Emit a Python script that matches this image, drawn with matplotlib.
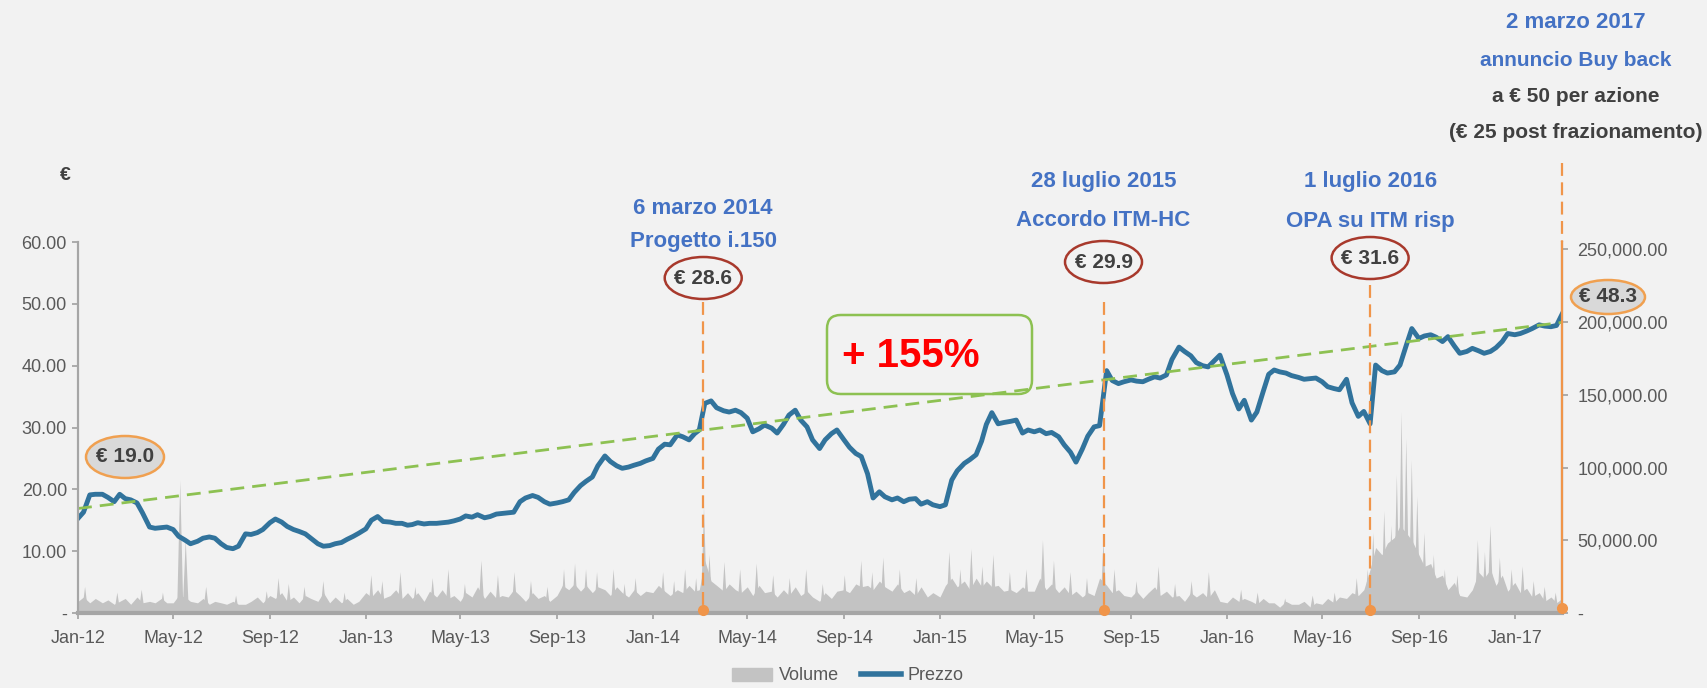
import datetime as dt
import matplotlib
matplotlib.use("Agg")
import matplotlib.pyplot as plt
import matplotlib.dates as mdates
import matplotlib.patches as mpatches
from matplotlib.lines import Line2D
from matplotlib.ticker import FuncFormatter, FixedLocator

plt.rcParams['font.family'] = ['Liberation Sans', 'DejaVu Sans']

# weekly samples: days 1, 8, 16, 23 of each month
week_days = [1, 8, 16, 23]

price_2012 = [15.3, 16.3, 19.1, 19.2, 19.2, 18.7, 18.0, 19.2,
              18.5, 18.3, 17.8, 16.2, 13.9, 13.7, 13.8, 13.9,
              13.5, 12.4, 11.8, 11.2, 11.6, 12.1, 12.3, 12.1,
              11.2, 10.6, 10.4, 10.8, 12.8, 12.7, 13.0, 13.5,
              14.6, 15.2, 14.7, 14.0, 13.5, 13.2, 12.8, 12.1,
              11.2, 10.8, 10.9, 11.2, 11.4, 11.9, 12.4, 12.9]
price_2013 = [13.6, 15.0, 15.6, 14.8, 14.7, 14.5, 14.5, 14.2,
              14.3, 14.6, 14.4, 14.5, 14.5, 14.6, 14.7, 14.9,
              15.2, 15.7, 15.5, 15.9, 15.4, 15.6, 16.0, 16.1,
              16.2, 16.3, 18.0, 18.6, 19.0, 18.7, 18.0, 17.6,
              17.8, 18.0, 18.3, 19.5, 20.6, 21.3, 22.0, 23.8,
              25.4, 24.5, 23.8, 23.4, 23.6, 23.9, 24.2, 24.6]
price_2014 = [25.0, 26.5, 27.3, 27.2, 28.8, 28.5, 28.0, 29.0,
              29.6, 33.9, 34.3, 33.2, 32.7, 32.5, 32.8, 32.4,
              31.5, 29.3, 29.8, 30.4, 29.9, 29.1, 30.5, 32.0,
              32.8, 31.2, 30.1, 28.0, 26.6, 28.0, 29.0, 29.6,
              28.0, 26.8, 25.8, 25.3, 22.5, 18.6, 19.6, 18.8,
              18.3, 18.6, 18.0, 18.4, 18.5, 17.6, 18.0, 17.5]
price_2015 = [17.2, 17.5, 21.5, 23.0, 24.2, 24.8, 25.6, 27.8,
              30.5, 32.4, 30.6, 30.8, 31.0, 31.2, 29.1, 29.6,
              29.3, 29.6, 29.0, 29.2, 28.5, 27.2, 26.0, 24.4,
              26.5, 28.6, 30.1, 30.3, 39.2, 37.6, 37.1, 37.4,
              37.7, 37.5, 37.4, 37.8, 38.2, 38.0, 38.5, 41.0,
              43.0, 42.3, 41.6, 40.5, 40.0, 39.8, 40.8, 41.7]
price_2016 = [38.5, 35.5, 33.0, 34.4, 31.2, 32.5, 35.8, 38.6,
              39.3, 39.0, 38.8, 38.4, 38.1, 37.8, 37.9, 38.0,
              37.4, 36.6, 36.3, 36.1, 37.8, 34.0, 31.8, 32.6,
              30.6, 40.1, 39.2, 38.8, 39.0, 40.1, 43.3, 46.0,
              44.4, 44.8, 45.0, 44.6, 43.9, 44.7, 43.2, 42.0,
              42.3, 42.8, 42.4, 42.0, 42.3, 42.9, 43.9, 45.2]
price_2017 = [45.0, 45.2, 45.6, 46.0, 46.6, 46.4, 46.3, 46.5, 48.3]

# base volume level, thousands of shares, same weekly dates
volume_2012 = [8, 11, 7, 10, 7, 9, 6, 8, 10, 6, 11, 7, 8, 7, 10, 7,
               7, 12, 11, 8, 7, 10, 6, 8, 7, 6, 8, 6, 6, 8, 11, 7,
               12, 10, 14, 8, 11, 7, 12, 10, 8, 14, 7, 11, 7, 10, 6, 8]
volume_2013 = [14, 11, 16, 10, 12, 16, 10, 14, 10, 14, 8, 15, 11, 16, 10, 12,
               8, 14, 11, 18, 10, 15, 10, 12, 11, 16, 12, 8, 14, 10, 12, 8,
               12, 19, 16, 20, 15, 19, 14, 18, 16, 12, 18, 14, 11, 16, 12, 15]
volume_2014 = [14, 19, 15, 12, 16, 14, 19, 15, 16, 36, 22, 19, 15, 20, 16, 14,
               18, 12, 19, 14, 15, 11, 16, 12, 18, 12, 15, 11, 8, 14, 10, 15,
               16, 14, 20, 18, 19, 16, 22, 18, 15, 20, 14, 16, 12, 18, 11, 14]
volume_2015 = [11, 19, 24, 18, 22, 16, 24, 18, 22, 18, 19, 15, 16, 14, 18, 15,
               15, 24, 16, 20, 14, 18, 12, 15, 11, 14, 12, 24, 19, 14, 16, 12,
               11, 15, 10, 14, 18, 12, 15, 11, 12, 8, 14, 11, 14, 10, 16, 8]
volume_2016 = [7, 11, 8, 10, 8, 6, 10, 7, 7, 4, 8, 6, 6, 8, 4, 7,
               6, 10, 7, 11, 10, 14, 12, 16, 30, 45, 40, 48, 52, 60, 55, 50,
               40, 32, 34, 24, 26, 16, 21, 12, 11, 16, 28, 24, 30, 19, 26, 15]
volume_2017 = [21, 14, 17, 11, 14, 8, 11, 7, 10]

# single-day volume spikes (date, thousands of shares)
spike_dates = [
    '2012-01-10', '2012-02-20', '2012-03-22', '2012-04-18', '2012-05-10', '2012-05-17',
    '2012-06-12', '2012-07-20', '2012-08-28', '2012-09-12', '2012-09-25', '2012-10-15',
    '2012-11-08', '2012-12-05',
    '2013-01-08', '2013-01-22', '2013-02-14', '2013-03-05', '2013-03-27', '2013-04-16',
    '2013-05-07', '2013-05-28', '2013-06-18', '2013-07-09', '2013-07-30', '2013-08-20',
    '2013-09-10', '2013-09-24', '2013-10-08', '2013-10-22', '2013-11-12', '2013-11-26',
    '2013-12-10',
    '2014-01-14', '2014-01-28', '2014-02-11', '2014-02-25', '2014-03-07', '2014-03-14',
    '2014-04-02', '2014-04-22', '2014-05-13', '2014-06-03', '2014-06-24', '2014-07-15',
    '2014-08-05', '2014-09-02', '2014-09-23', '2014-10-07', '2014-10-21', '2014-11-11',
    '2014-12-02',
    '2015-01-13', '2015-01-27', '2015-02-10', '2015-02-24', '2015-03-10', '2015-03-31',
    '2015-04-21', '2015-05-12', '2015-05-26', '2015-06-16', '2015-07-07', '2015-07-28',
    '2015-08-11', '2015-09-08', '2015-10-06', '2015-10-27', '2015-11-17', '2015-12-09',
    '2016-01-19', '2016-02-09', '2016-03-15', '2016-04-19', '2016-05-17', '2016-06-14',
    '2016-06-28', '2016-07-05', '2016-07-19', '2016-07-28', '2016-08-04', '2016-08-10',
    '2016-08-16', '2016-08-23', '2016-08-30', '2016-09-08', '2016-09-20', '2016-10-04',
    '2016-10-20', '2016-11-15', '2016-11-24', '2016-12-01', '2016-12-13', '2016-12-28',
    '2017-01-11', '2017-01-25', '2017-02-08', '2017-02-22']
spike_values = [
    18, 14, 16, 14, 91, 50, 18, 12, 15, 24, 20, 18, 22, 14,
    26, 22, 28, 18, 24, 30, 20, 36, 26, 28, 22, 18, 30, 34, 30, 28, 30, 20, 24,
    28, 22, 30, 24, 73, 40, 35, 30, 34, 26, 24, 30, 20, 26, 36, 28, 38, 30, 24,
    42, 30, 44, 32, 40, 28, 30, 50, 36, 28, 24, 50, 30, 22, 32, 20, 22, 28,
    16, 14, 10, 12, 14, 24, 30, 55, 70, 60, 95, 138, 120, 105, 80, 55, 40, 30,
    26, 50, 42, 60, 38, 30,
    32, 22, 18, 14]

event_dates = [dt.date(2014, 3, 6), dt.date(2015, 7, 28), dt.date(2016, 7, 1)]
event_line1 = ["6 marzo 2014", "28 luglio 2015", "1 luglio 2016"]
event_line2 = ["Progetto i.150", "Accordo ITM-HC", "OPA su ITM risp"]
event_price = [28.6, 29.9, 31.6]
buyback_date = dt.date(2017, 3, 2)
start_price = 19.0
end_price = 48.3
growth_pct = 155
trend_dates = [dt.date(2012, 1, 1), dt.date(2017, 3, 2)]
trend_values = [16.9, 47.0]


def weekly_dates(year, n_months):
    return [dt.date(year, m, d) for m in range(1, n_months + 1) for d in week_days]


dates = (weekly_dates(2012, 12) + weekly_dates(2013, 12) + weekly_dates(2014, 12)
         + weekly_dates(2015, 12) + weekly_dates(2016, 12) + weekly_dates(2017, 2)
         + [buyback_date])
price = price_2012 + price_2013 + price_2014 + price_2015 + price_2016 + price_2017
volume = [v * 1000 for v in volume_2012 + volume_2013 + volume_2014
          + volume_2015 + volume_2016 + volume_2017]
spikes_x = [mdates.date2num(dt.date.fromisoformat(s)) for s in spike_dates]
spikes_y = [v * 1000 for v in spike_values]

BG = '#f2f2f2'
BLUE = '#31739c'
ORANGE = '#f0954a'
GREEN = '#8dc152'
GREY = '#c3c3c3'
TXT = '#595959'
DARK = '#404040'
TITLE = '#4472c4'
W, H = 1708, 688

fig = plt.figure(figsize=(W / 100, H / 100), dpi=100, facecolor=BG)
ax = fig.add_axes([78 / W, 1 - 613 / H, (1562 - 78) / W, (613 - 242) / H])
ax2 = ax.twinx()
ax.set_zorder(ax2.get_zorder() + 1)
ax.patch.set_visible(False)
ax2.set_facecolor(BG)

ax2.fill_between(dates, volume, color=GREY, lw=0)
# each spike drawn as a narrow peak a few days wide
for sx, sy in zip(spikes_x, spikes_y):
    ax2.fill([sx - 4, sx, sx + 4], [0, sy, 0], color=GREY, lw=0)
ax.plot(dates, price, color=BLUE, lw=3.5, solid_joinstyle='round')
ax.plot(trend_dates, trend_values, color=GREEN, lw=2, dashes=(5, 2.9))

ax.set_xlim(dt.date(2012, 1, 1), buyback_date)
ax.set_ylim(0, 60)
ax2.set_ylim(0, 255000)

ax.xaxis.set_major_locator(mdates.MonthLocator(bymonth=[1, 5, 9]))
ax.xaxis.set_major_formatter(mdates.DateFormatter('%b-%y'))
ax.yaxis.set_major_locator(FixedLocator([0, 10, 20, 30, 40, 50, 60]))
ax.yaxis.set_major_formatter(FuncFormatter(lambda v, p: '-' if v == 0 else f'{v:.2f}'))
ax2.yaxis.set_major_locator(FixedLocator([0, 50000, 100000, 150000, 200000, 250000]))
ax2.yaxis.set_major_formatter(FuncFormatter(lambda v, p: '-' if v == 0 else f'{v:,.2f}'))

for a in (ax, ax2):
    a.tick_params(colors='#a6a6a6', labelcolor=TXT, labelsize=13, length=4, width=1.3)
    a.spines['top'].set_visible(False)
    for s in ('left', 'right', 'bottom'):
        a.spines[s].set_color('#a6a6a6')
        a.spines[s].set_linewidth(1.5)
ax.spines['bottom'].set_linewidth(3)
ax.tick_params(axis='x', pad=8)
ax.tick_params(axis='y', pad=4)
ax2.tick_params(axis='y', pad=7)

inv = fig.transFigure.inverted()


def fx(d):
    return inv.transform(ax.transData.transform((mdates.date2num(d), 0)))[0]


def fy(px):
    return 1 - px / H


def ellipse(x, y_px, w_px, h_px, label, fc, ec):
    e = mpatches.Ellipse((x, fy(y_px)), w_px / W, h_px / H, transform=fig.transFigure,
                         facecolor=fc, edgecolor=ec, lw=1.8)
    fig.add_artist(e)
    fig.text(x, fy(y_px), label, ha='center', va='center', fontsize=15,
             fontweight='bold', color=DARK)


line1_y = [209, 182, 182]
line2_y = [241, 220, 221]
ell_y = [278, 262, 258]
vline_top = [302, 302, 285]
for d, t1, t2, p, y1, y2, ye, yt in zip(event_dates, event_line1, event_line2, event_price,
                                         line1_y, line2_y, ell_y, vline_top):
    x = fx(d)
    fig.text(x, fy(y1), t1, ha='center', va='center', fontsize=16, fontweight='bold', color=TITLE)
    fig.text(x, fy(y2), t2, ha='center', va='center', fontsize=16, fontweight='bold', color=TITLE)
    ellipse(x, ye, 77, 42, f'€ {p:.1f}', 'none', '#a8392c')
    fig.add_artist(Line2D([x, x], [fy(yt), fy(612)], transform=fig.transFigure,
                          color=ORANGE, lw=1.6, dashes=(5.8, 2.9)))
    fig.add_artist(Line2D([x], [fy(610)], transform=fig.transFigure, marker='o',
                          ms=7, color=ORANGE, lw=0))

# buy back announcement
xb = fx(buyback_date)
fig.add_artist(Line2D([xb, xb], [fy(163), fy(242)], transform=fig.transFigure,
                      color=ORANGE, lw=1.6, dashes=(5.8, 2.9)))
fig.add_artist(Line2D([xb, xb], [fy(242), fy(612)], transform=fig.transFigure,
                      color=ORANGE, lw=1.6))
fig.add_artist(Line2D([xb], [fy(608)], transform=fig.transFigure, marker='o',
                      ms=7, color=ORANGE, lw=0))
xt = xb + 14 / W
fig.text(xt, fy(22), '2 marzo 2017', ha='center', va='center', fontsize=16,
         fontweight='bold', color=TITLE)
fig.text(xt, fy(60), 'annuncio Buy back', ha='center', va='center', fontsize=15,
         fontweight='bold', color=TITLE)
fig.text(xt, fy(97), 'a € 50 per azione', ha='center', va='center', fontsize=15,
         fontweight='bold', color=DARK)
fig.text(xt, fy(133), '(€ 25 post frazionamento)', ha='center', va='center', fontsize=15,
         fontweight='bold', color=DARK)

ellipse(125 / W, 457, 78, 42, f'€ {start_price:.1f}', '#d9d9d9', '#f0a050')
ellipse(1608 / W, 297, 74, 34, f'€ {end_price:.1f}', '#d9d9d9', '#f0a050')

fig.text(65 / W, fy(175), '€', ha='center', va='center', fontsize=14,
         fontweight='bold', color=DARK)

# growth box
box = mpatches.FancyBboxPatch((827 / W, fy(394)), 205 / W, 79 / H,
                              boxstyle='round,pad=0,rounding_size=0.008',
                              mutation_aspect=W / H, transform=fig.transFigure,
                              facecolor='none', edgecolor=GREEN, lw=1.8)
fig.add_artist(box)
fig.text(842 / W, fy(356), f'+ {growth_pct}%', ha='left', va='center', fontsize=29,
         fontweight='bold', color='#ff0000')

handles = [mpatches.Patch(color=GREY, label='Volume'),
           Line2D([], [], color=BLUE, lw=4, label='Prezzo')]
leg = fig.legend(handles=handles, loc='center', bbox_to_anchor=(848 / W, fy(676)), ncol=2,
                 frameon=False, fontsize=13, handlelength=2.2, columnspacing=1.2,
                 handletextpad=0.4)
for t in leg.get_texts():
    t.set_color(TXT)

fig.savefig('out.png', dpi=100, facecolor=BG)
